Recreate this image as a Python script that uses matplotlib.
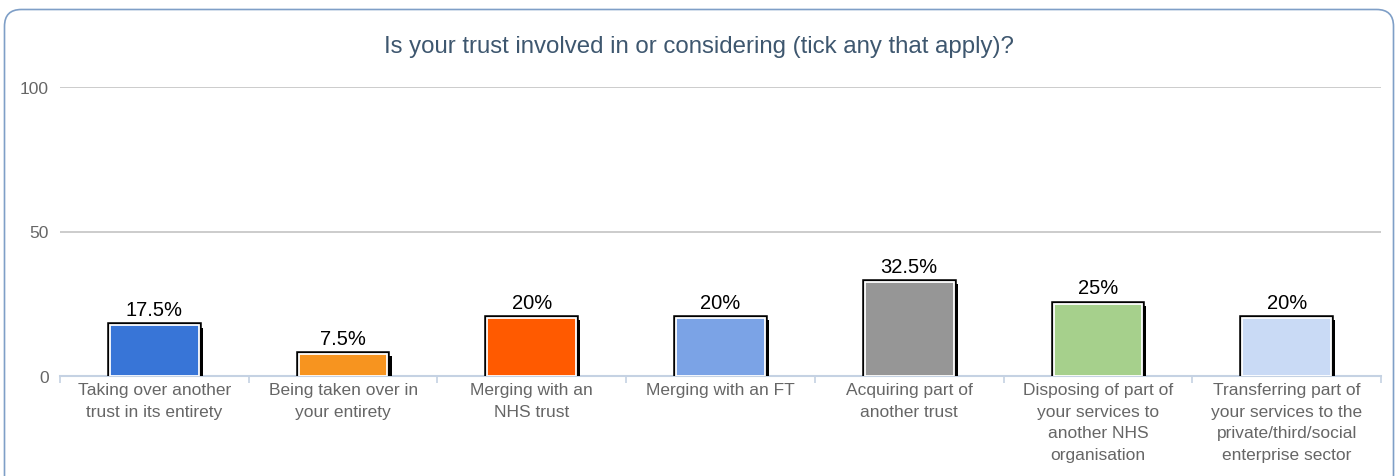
import matplotlib
matplotlib.use("Agg")
import matplotlib.pyplot as plt
import matplotlib.patheffects as pe
from matplotlib.patches import FancyBboxPatch

plt.rcParams['font.family'] = ['Liberation Sans', 'DejaVu Sans']

title = "Is your trust involved in or considering (tick any that apply)?"
categories = [
    "Taking over another trust in its entirety",
    "Being taken over in your entirety",
    "Merging with an NHS trust",
    "Merging with an FT",
    "Acquiring part of another trust",
    "Disposing of part of your services to another NHS organisation",
    "Transferring part of your services to the private/third/social enterprise sector",
]
tick_labels = [
    "Taking over another\ntrust in its entirety",
    "Being taken over in\nyour entirety",
    "Merging with an\nNHS trust",
    "Merging with an FT",
    "Acquiring part of\nanother trust",
    "Disposing of part of\nyour services to\nanother NHS\norganisation",
    "Transferring part of\nyour services to the\nprivate/third/social\nenterprise sector",
]
values = [17.5, 7.5, 20, 20, 32.5, 25, 20]
value_labels = ["17.5%", "7.5%", "20%", "20%", "32.5%", "25%", "20%"]
colors = ["#3875d7", "#f7941f", "#ff5a00", "#7ba3e6", "#969696", "#a6d08c", "#c9daf5"]
yticks = [0, 50, 100]

fig = plt.figure(figsize=(13.98, 4.77), dpi=100)

# rounded frame round the whole chart (bottom edge is cut off)
frame = FancyBboxPatch((4.5 / 1398, -0.2), 1389 / 1398, 1.2 - 10.5 / 477,
                       boxstyle="round,pad=0,rounding_size=0.012",
                       transform=fig.transFigure, facecolor="none",
                       edgecolor="#7f9fc7", linewidth=1.2, mutation_aspect=2.93,
                       zorder=-1)
fig.patches.append(frame)

ax = fig.add_axes([60 / 1398, 1 - 377 / 477, (1381 - 60) / 1398, (377 - 88) / 477])
ax.set_facecolor("none")

x = list(range(len(values)))
bars = ax.bar(x, values, width=0.47, color=colors, edgecolor="white", linewidth=1.3, zorder=3)
for b in bars:
    b.set_path_effects([
        pe.SimplePatchShadow(offset=(3, -1.5), shadow_rgbFace="black", alpha=1.0),
        pe.Stroke(linewidth=4, foreground="black"),
        pe.Normal(),
    ])

for xi, v, lab in zip(x, values, value_labels):
    ax.text(xi, v + 2.2, lab, ha="center", va="bottom", fontsize=14.5, color="black", zorder=4)

ax.set_xlim(-0.5, len(values) - 0.5)
ax.set_ylim(0, 100)
ax.set_yticks(yticks)
ax.set_yticklabels([str(t) for t in yticks])
ax.yaxis.grid(True, color="#c4c4c4", linewidth=1.2)
ax.set_axisbelow(True)

ax.set_xticks(x)
ax.set_xticklabels(tick_labels, fontsize=12.5, color="#666666", linespacing=1.55)
ax.set_xticks([i - 0.5 for i in range(len(values) + 1)], minor=True)
ax.tick_params(axis="x", which="major", length=0, pad=4.5)
ax.tick_params(axis="x", which="minor", length=5, color="#c5d2e3", width=1.2)
ax.tick_params(axis="y", length=0, labelsize=12.5, labelcolor="#666666", pad=8)

for s in ["top", "right", "left"]:
    ax.spines[s].set_visible(False)
ax.spines["bottom"].set_color("#c5d2e3")
ax.spines["bottom"].set_linewidth(1.5)

fig.text(0.5, 1 - 47 / 477, title, ha="center", va="center", fontsize=17.3, color="#3e576f")

fig.savefig("out.png", dpi=100)
